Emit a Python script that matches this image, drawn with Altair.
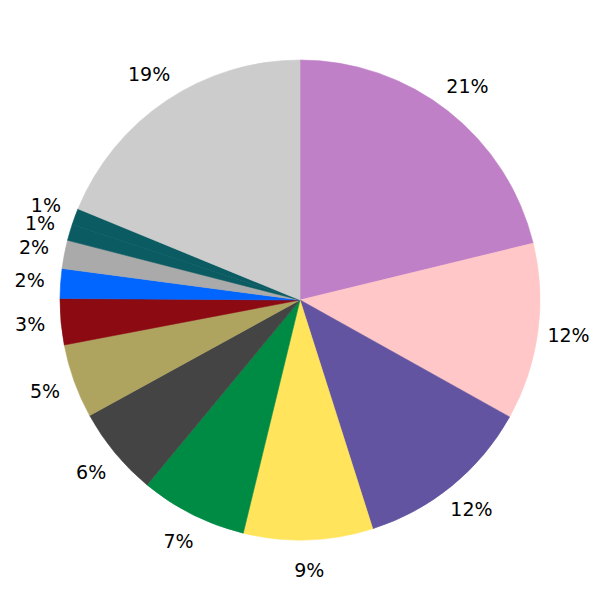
import altair as alt
import pandas as pd

values = [21.2, 11.9, 12.0, 8.7, 7.2, 6.0, 5.0, 3.1, 2.0, 1.9, 1.1, 1.1, 18.8]
labels = ["21%", "12%", "12%", "9%", "7%", "6%", "5%", "3%", "2%", "2%", "1%", "1%", "19%"]
colors = ["#BF80C7", "#FFC7C7", "#6254A0", "#FFE45C", "#008B45", "#444444",
          "#AFA45F", "#8C0A12", "#0066FF", "#AAAAAA", "#0B5B62", "#0B5B62", "#CCCCCC"]

df = pd.DataFrame({
    "idx": list(range(len(values))),
    "value": values,
    "label": labels,
    "color": colors,
})

base = alt.Chart(df).encode(
    theta=alt.Theta("value:Q", stack=True),
    order=alt.Order("idx:O"),
)

arcs = base.mark_arc(outerRadius=240, strokeWidth=0.6).encode(
    color=alt.Color("color:N", scale=None),
    stroke=alt.Stroke("color:N", scale=None),
)

text = base.mark_text(radius=271, fontSize=19, font="DejaVu Sans", color="black").encode(
    text="label:N",
)

chart = (arcs + text).properties(
    width=584, height=584, padding=0, autosize=alt.AutoSizeParams(type="none")
).configure_view(stroke=None)

chart.save("out.html", embed_options={"renderer": "svg", "actions": False})
